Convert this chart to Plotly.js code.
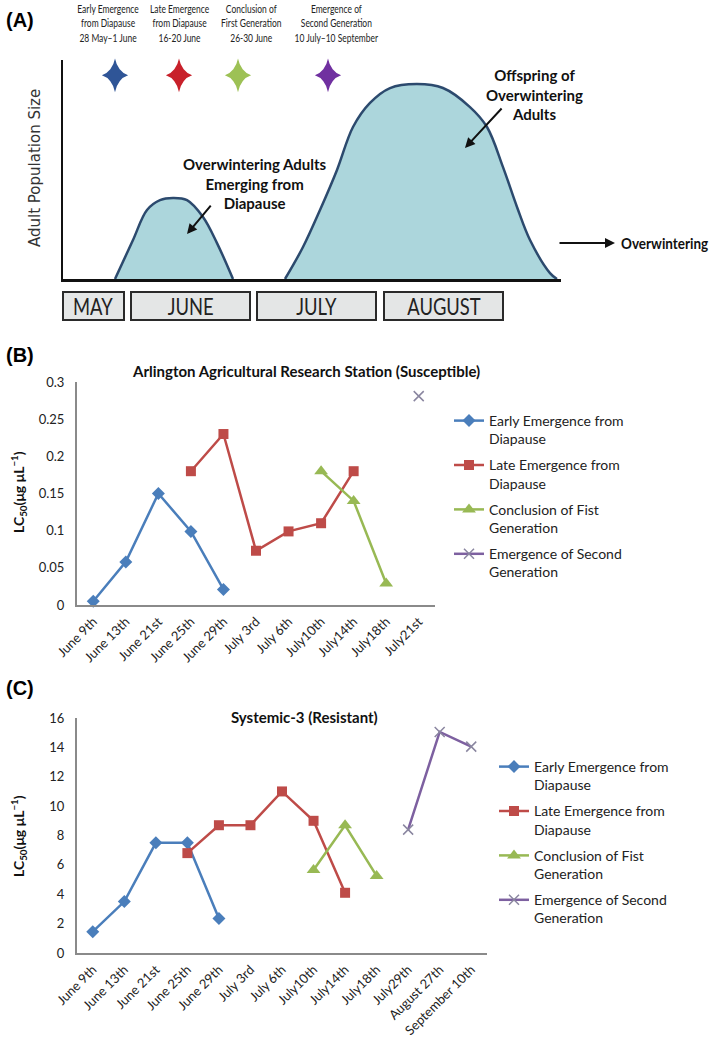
<!DOCTYPE html>
<html>
<head>
<meta charset="utf-8">
<script src="https://cdn.plot.ly/plotly-3.0.1.min.js"></script>
<style>html,body{margin:0;padding:0;background:#fff;}#chart{width:709px;height:1042px;}</style>
</head>
<body>
<div id="chart"></div>
<script>
// ---------- Panel A: conceptual population timeline (x = days from mid-May, y = relative size) ----------
const hump1Days = [13, 17.5, 21, 24.25, 27.5, 31, 35, 38.5, 42.5];
const hump1Size = [0, 17.8, 31.5, 36, 37, 36, 28.3, 16.4, 0];
const hump2Days = [55.5, 60, 64.25, 68.5, 72.5, 76.75, 81.75, 88.5, 95, 101.75, 106, 110, 113.5, 116.75, 121.75, 123.5];
const hump2Size = [0, 14.6, 31.5, 49.8, 69.4, 80.4, 87.2, 89, 87.2, 78.5, 69.4, 51.1, 32.9, 17.8, 2.7, 0];
const eventDays = [13, 29, 43.75, 66.25];
const eventLevel = [93, 93, 93, 93];
const eventColors = ['#2f5597', '#c8202a', '#9dc155', '#7030a0'];
const eventLabels = [
  'Early Emergence<br>from Diapause<br>28 May–1 June',
  'Late Emergence<br>from Diapause<br>16-20 June',
  'Conclusion of<br>First Generation<br>26-30 June',
  'Emergence of<br>Second Generation<br>10 July–10 September'
];
const monthNames = ['MAY', 'JUNE', 'JULY', 'AUGUST'];

// ---------- Panel B: Arlington (Susceptible) ----------
const catsB = ['June 9th','June 13th','June 21st','June 25th','June 29th','July 3rd','July 6th','July10th','July14th','July18th','July21st'];
const earlyB_x = ['June 9th','June 13th','June 21st','June 25th','June 29th'];
const earlyB_y = [0.005, 0.058, 0.15, 0.099, 0.021];
const lateB_x = ['June 25th','June 29th','July 3rd','July 6th','July10th','July14th'];
const lateB_y = [0.18, 0.23, 0.073, 0.099, 0.11, 0.18];
const conclB_x = ['July10th','July14th','July18th'];
const conclB_y = [0.18, 0.14, 0.029];
const secondB_x = ['July21st'];
const secondB_y = [0.281];

// ---------- Panel C: Systemic-3 (Resistant) ----------
const catsC = ['June 9th','June 13th','June 21st','June 25th','June 29th','July 3rd','July 6th','July10th','July14th','July18th','July29th','August 27th','September 10th'];
const earlyC_x = ['June 9th','June 13th','June 21st','June 25th','June 29th'];
const earlyC_y = [1.45, 3.5, 7.5, 7.5, 2.35];
const lateC_x = ['June 25th','June 29th','July 3rd','July 6th','July10th','July14th'];
const lateC_y = [6.8, 8.7, 8.7, 11.0, 9.0, 4.1];
const conclC_x = ['July10th','July14th','July18th'];
const conclC_y = [5.65, 8.7, 5.25];
const secondC_x = ['July29th','August 27th','September 10th'];
const secondC_y = [8.4, 15.05, 14.05];

const seriesNames = [
  'Early Emergence from<br>Diapause',
  'Late Emergence from<br>Diapause',
  'Conclusion of Fist<br>Generation',
  'Emergence of Second<br>Generation'
];

// ---------- helpers ----------
const W = 709, H = 1042;
const px = v => v / W;
const py = v => 1 - v / H;
const FONT = 'Lato, "Open Sans", sans-serif';
const colBlue = '#4a7ebb', colRed = '#be4b48', colGreen = '#98b954', colPurple = '#7d60a0';

function seriesTraces(xs, ys, xa, ya, leg) {
  const styles = [
    {color: colBlue, symbol: 'diamond', size: 10, mcolor: colBlue},
    {color: colRed, symbol: 'square', size: 10, mcolor: colRed},
    {color: colGreen, symbol: 'triangle-up', size: 12, mcolor: colGreen},
    {color: colPurple, symbol: 'x-thin', size: 10, mcolor: '#8a86a0'}
  ];
  return xs.map((x, i) => ({
    type: 'scatter', mode: 'lines+markers', x: x, y: ys[i], xaxis: xa, yaxis: ya,
    name: seriesNames[i], legend: leg, legendgroup: leg + i,
    line: {color: styles[i].color, width: 2.5},
    marker: {symbol: styles[i].symbol, size: styles[i].size, color: styles[i].mcolor,
             line: {color: styles[i].mcolor, width: styles[i].symbol === 'x-thin' ? 1.5 : 0}},
    cliponaxis: false
  }));
}

const traces = [
  {type: 'scatter', mode: 'lines', x: hump1Days, y: hump1Size, xaxis: 'x3', yaxis: 'y3',
   fill: 'tozeroy', fillcolor: '#acd6dc', line: {color: '#2c4a6e', width: 2.5, shape: 'spline'}, showlegend: false},
  {type: 'scatter', mode: 'lines', x: hump2Days, y: hump2Size, xaxis: 'x3', yaxis: 'y3',
   fill: 'tozeroy', fillcolor: '#acd6dc', line: {color: '#2c4a6e', width: 2.5, shape: 'spline'}, showlegend: false},
  {type: 'scatter', mode: 'markers', x: eventDays, y: eventLevel, xaxis: 'x3', yaxis: 'y3',
   marker: {symbol: 'star-diamond', size: 24, color: eventColors, line: {width: 0}}, showlegend: false, cliponaxis: false},
  ...seriesTraces([earlyB_x, lateB_x, conclB_x, secondB_x], [earlyB_y, lateB_y, conclB_y, secondB_y], 'x', 'y', 'legend'),
  ...seriesTraces([earlyC_x, lateC_x, conclC_x, secondC_x], [earlyC_y, lateC_y, conclC_y, secondC_y], 'x2', 'y2', 'legend2')
];

const annotations = [];
const condense = []; // [annotation index, x-scale, anchor]
function ann(o, sx, anchor) {
  annotations.push(Object.assign({showarrow: false, xref: 'paper', yref: 'paper'}, o));
  if (sx) condense.push([annotations.length - 1, sx, anchor || 'center']);
}

// panel letters
ann({text: '<b>(A)</b>', x: px(4), y: py(20), xanchor: 'left', yanchor: 'middle', font: {family: 'Liberation Sans, Arial', size: 20, color: '#000'}});
ann({text: '<b>(B)</b>', x: px(4), y: py(355), xanchor: 'left', yanchor: 'middle', font: {family: 'Liberation Sans, Arial', size: 20, color: '#000'}});
ann({text: '<b>(C)</b>', x: px(4), y: py(688), xanchor: 'left', yanchor: 'middle', font: {family: 'Liberation Sans, Arial', size: 20, color: '#000'}});

// event labels above stars
const labelCenters = [108, 179, 251, 336];
eventLabels.forEach((t, i) => ann({text: t, x: px(labelCenters[i]), y: py(0), xanchor: 'center', yanchor: 'top',
  font: {family: FONT, size: 11, color: '#222'}}, 0.77, 'center'));

ann({text: 'Adult Population Size', x: px(35), y: py(168), textangle: -90, xanchor: 'center', yanchor: 'middle',
  font: {family: 'DejaVu Sans, sans-serif', size: 15, color: '#333'}});
ann({text: '<b>Overwintering Adults<br>Emerging from<br>Diapause</b>', x: px(255), y: py(183), xanchor: 'center', yanchor: 'middle',
  font: {family: FONT, size: 15, color: '#111'}});
ann({text: '<b>Offspring of<br>Overwintering<br>Adults</b>', x: px(534), y: py(94), xanchor: 'center', yanchor: 'middle',
  font: {family: FONT, size: 15, color: '#111'}});
// arrows in panel A
annotations.push({xref: 'x3', yref: 'y3', x: 31, y: 20.5, ax: 25, ay: -30, showarrow: true, arrowhead: 2, arrowsize: 1, arrowwidth: 2, arrowcolor: '#111', text: ''});
annotations.push({xref: 'x3', yref: 'y3', x: 100.5, y: 59.8, ax: 38, ay: -41, showarrow: true, arrowhead: 2, arrowsize: 1, arrowwidth: 2, arrowcolor: '#111', text: ''});
annotations.push({xref: 'paper', yref: 'paper', x: px(615), y: py(243), ax: -57, ay: 0, showarrow: true, arrowhead: 2, arrowsize: 1, arrowwidth: 2, arrowcolor: '#111', text: ''});
ann({text: '<b>Overwintering</b>', x: px(619), y: py(243), xanchor: 'left', yanchor: 'middle', font: {family: FONT, size: 15, color: '#111'}}, 0.9, 'left');

// month boxes
const shapes = [];
const monthEdges = [[63, 124], [131, 250], [257, 376], [384, 503]];
monthNames.forEach((m, i) => {
  shapes.push({type: 'rect', xref: 'paper', yref: 'paper', x0: px(monthEdges[i][0]), x1: px(monthEdges[i][1]), y0: py(320), y1: py(292),
    fillcolor: '#e4e6e6', line: {color: '#2a2a2a', width: 2}});
  ann({text: m, x: px((monthEdges[i][0] + monthEdges[i][1]) / 2), y: py(306), xanchor: 'center', yanchor: 'middle',
    font: {family: FONT, size: 23, color: '#222'}}, 0.8, 'center');
});

// titles of B and C
ann({text: '<b>Arlington Agricultural Research Station (Susceptible)</b>', x: px(306), y: py(371), xanchor: 'center', yanchor: 'middle',
  font: {family: FONT, size: 15, color: '#111'}});
ann({text: '<b>Systemic-3 (Resistant)</b>', x: px(304), y: py(717), xanchor: 'center', yanchor: 'middle',
  font: {family: FONT, size: 15, color: '#111'}});
// y titles
ann({text: '<b>LC<sub>50</sub>(μg μL<sup>−1</sup>)</b>', x: px(18), y: py(492), textangle: -90, xanchor: 'center', yanchor: 'middle',
  font: {family: FONT, size: 14, color: '#111'}});
ann({text: '<b>LC<sub>50</sub>(μg μL<sup>−1</sup>)</b>', x: px(18), y: py(836), textangle: -90, xanchor: 'center', yanchor: 'middle',
  font: {family: FONT, size: 14, color: '#111'}});

const tickFont = {family: FONT, size: 13, color: '#222'};
const axisCommon = {showgrid: false, zeroline: false, showline: true, linecolor: '#8a8a8a', linewidth: 2, ticks: '', tickfont: tickFont, fixedrange: true};

const layout = {
  width: W, height: H, margin: {l: 0, r: 0, t: 0, b: 0}, paper_bgcolor: '#fff', plot_bgcolor: 'rgba(0,0,0,0)',
  font: {family: FONT},
  xaxis3: {domain: [px(63), px(561)], range: [0, 124.5], showgrid: false, zeroline: false, showline: true, linecolor: '#111', linewidth: 2.5,
    showticklabels: false, ticks: '', anchor: 'y3'},
  yaxis3: {domain: [py(279), py(60)], range: [0, 100], showgrid: false, zeroline: false, showline: true, linecolor: '#111', linewidth: 2.5,
    showticklabels: false, ticks: '', anchor: 'x3'},
  xaxis: Object.assign({}, axisCommon, {domain: [px(77), px(435)], type: 'category', categoryorder: 'array', categoryarray: catsB,
    range: [-0.5, 10.5], tickangle: -45, anchor: 'y', ticklabelstandoff: 2}),
  yaxis: Object.assign({}, axisCommon, {domain: [py(605), py(382)], range: [0, 0.3], tickvals: [0, 0.05, 0.1, 0.15, 0.2, 0.25, 0.3],
    ticktext: ['0', '0.05', '0.1', '0.15', '0.2', '0.25', '0.3'], anchor: 'x', ticklabelstandoff: 8}),
  xaxis2: Object.assign({}, axisCommon, {domain: [px(77), px(487)], type: 'category', categoryorder: 'array', categoryarray: catsC,
    range: [-0.5, 12.5], tickangle: -45, anchor: 'y2', ticklabelstandoff: 2}),
  yaxis2: Object.assign({}, axisCommon, {domain: [py(953), py(718)], range: [0, 16], tickvals: [0, 2, 4, 6, 8, 10, 12, 14, 16], anchor: 'x2', ticklabelstandoff: 8}),
  legend: {x: px(449), y: py(405), xanchor: 'left', yanchor: 'top', valign: 'top', traceorder: 'grouped', tracegroupgap: 5,
    bgcolor: 'rgba(0,0,0,0)', font: {family: FONT, size: 14, color: '#222'}},
  legend2: {x: px(494), y: py(751), xanchor: 'left', yanchor: 'top', valign: 'top', traceorder: 'grouped', tracegroupgap: 5,
    bgcolor: 'rgba(0,0,0,0)', font: {family: FONT, size: 14, color: '#222'}},
  annotations: annotations,
  shapes: shapes,
  showlegend: true
};

function postProcess() {
  // narrow (condensed) lettering for the diagram labels
  condense.forEach(([idx, sx, anchor]) => {
    const t = document.querySelector('.annotation[data-index="' + idx + '"] text.annotation-text');
    if (!t) return;
    const bb = t.getBBox();
    const cx = anchor === 'left' ? bb.x : bb.x + bb.width / 2;
    t.setAttribute('transform', 'translate(' + (cx * (1 - sx)) + ',0) scale(' + sx + ',1)');
  });
  // slimmer four-point stars
  const starTrace = document.querySelectorAll('.subplot.x3y3 .scatterlayer .trace')[2];
  if (starTrace) {
    starTrace.querySelectorAll('path.point').forEach(p => {
      const tr = p.getAttribute('transform') || '';
      p.setAttribute('transform', tr + ' scale(0.78,1)');
    });
  }
}

Plotly.newPlot('chart', traces, layout, {displayModeBar: false, staticPlot: true}).then(postProcess);
</script>
</body>
</html>
